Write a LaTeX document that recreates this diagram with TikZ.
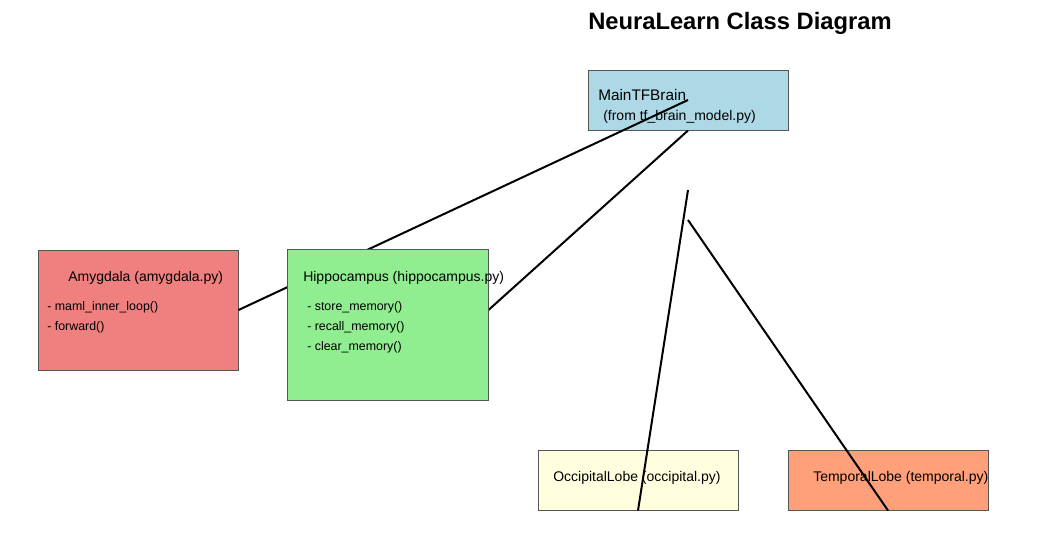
\documentclass[tikz,border=0pt]{standalone}
\usepackage{fontspec}
\setmainfont{Liberation Sans}
\usepackage{tikz}
\usetikzlibrary{positioning}
\definecolor{mainblue}{HTML}{ADD8E6}
\definecolor{amyred}{HTML}{F08080}
\definecolor{hipgreen}{HTML}{90EE90}
\definecolor{occyellow}{HTML}{FFFFE0}
\definecolor{tmpsalmon}{HTML}{FFA07A}
\definecolor{boxedge}{HTML}{555555}

\begin{document}
\begin{tikzpicture}[x=0.75pt,y=-0.75pt,
    classbox/.style={draw=boxedge,line width=0.75pt,inner sep=0pt,minimum width=150pt},
    label/.style={inner sep=0pt,anchor=base west,font=\fontsize{10.5pt}{12pt}\selectfont},
    method/.style={inner sep=0pt,anchor=base west,font=\fontsize{9.3pt}{11pt}\selectfont},
    link/.style={line width=1.5pt}]

\useasboundingbox (0,0) rectangle (1063,554);

\node[inner sep=0pt,anchor=base west,font=\fontsize{17.8pt}{20pt}\selectfont\bfseries] (title) at (588,29) {NeuraLearn Class Diagram};

\node[classbox,fill=mainblue,minimum height=45pt] (main) at (688,100) {};
\node[label,font=\fontsize{11.5pt}{13pt}\selectfont] (main-name) at (598,100) {MainTFBrain};
\node[label] (main-file) at (603,120) {(from tf\_brain\_model.py)};

\node[classbox,fill=amyred,minimum height=90pt] (amy) at (138,310) {};
\node[label] (amy-name) at (68,281) {Amygdala (amygdala.py)};
\node[method] (amy-m1) at (47,310) {- maml\_inner\_loop()};
\node[method] (amy-m2) at (47,330) {- forward()};

\node[classbox,fill=occyellow,minimum height=45pt] (occ) at (638,480) {};
\node[label] (occ-name) at (553,481) {OccipitalLobe (occipital.py)};

\node[classbox,fill=tmpsalmon,minimum height=45pt] (tmp) at (888,480) {};
\node[label] (tmp-name) at (813,481) {TemporalLobe (temporal.py)};

% hippocampus box is filled after the links
\node[classbox,draw=none,minimum height=112.5pt] (hip) at (388,325) {};

\coordinate (occ-end) at (688,190);
\coordinate (tmp-end) at (688,220);

\draw[link] (main.center) -- (amy.east);
\draw[link] (main.south) -- ([yshift=11.25pt]hip.east);
\draw[link] (occ-end) -- (occ.south);
\draw[link] (tmp-end) -- (tmp.south);

\draw[draw=boxedge,line width=0.75pt,fill=hipgreen] (hip.north west) rectangle (hip.south east);
\node[label] (hip-name) at (303,281) {Hippocampus (hippocampus.py)};
\node[method] (hip-m1) at (307,310) {- store\_memory()};
\node[method] (hip-m2) at (307,330) {- recall\_memory()};
\node[method] (hip-m3) at (307,350) {- clear\_memory()};
\end{tikzpicture}
\end{document}
